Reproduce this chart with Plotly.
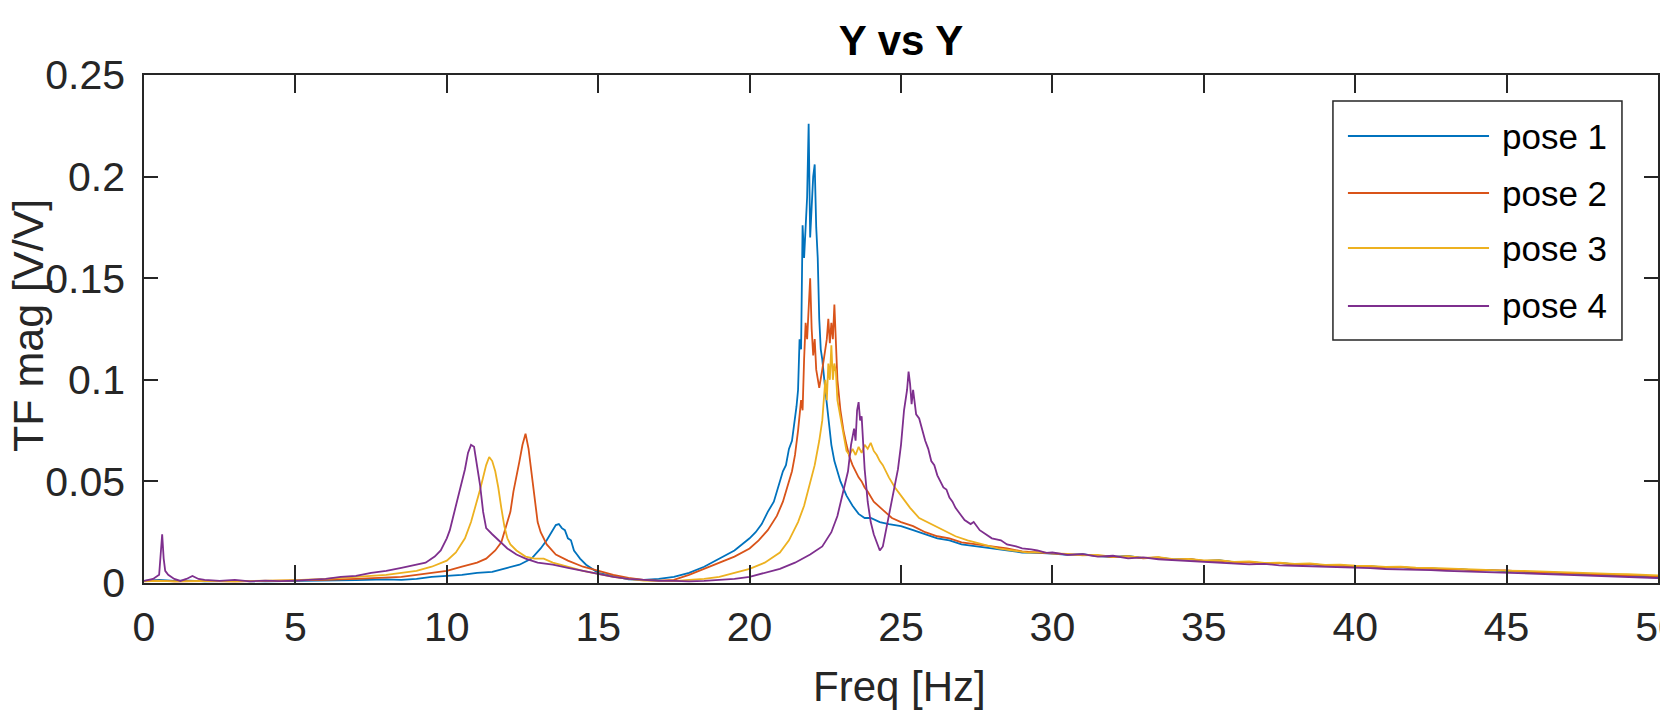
import plotly.graph_objects as go

# (freq [Hz], TF magnitude [V/V]) pairs
pose1 = [
    (0, 0.001), (0.5, 0.0015), (1, 0.001), (1.5, 0.0012), (2, 0.0008), (3, 0.001), (4, 0.0008),
    (5, 0.0009), (6, 0.0012), (7, 0.0014), (8, 0.0018), (8.5, 0.0015), (9, 0.002), (9.5, 0.003),
    (10, 0.0035), (10.5, 0.004), (11, 0.005), (11.5, 0.0055), (12, 0.0075), (12.4, 0.009),
    (12.8, 0.012), (13.1, 0.017), (13.3, 0.021), (13.5, 0.026), (13.6, 0.0285), (13.7, 0.029),
    (13.8, 0.027), (13.9, 0.026), (14.0, 0.022), (14.1, 0.021), (14.2, 0.016), (14.3, 0.014),
    (14.4, 0.012), (14.6, 0.009), (14.8, 0.007), (15.0, 0.005), (15.3, 0.004), (15.6, 0.003),
    (16.0, 0.0018), (16.5, 0.0015), (17.0, 0.002), (17.5, 0.003), (18.0, 0.005), (18.5, 0.008),
    (19.0, 0.012), (19.5, 0.016), (20.0, 0.022), (20.2, 0.025), (20.4, 0.029), (20.6, 0.035),
    (20.8, 0.04), (20.9, 0.045), (21.0, 0.049), (21.1, 0.055), (21.2, 0.058), (21.3, 0.066),
    (21.4, 0.07), (21.5, 0.08), (21.55, 0.087), (21.6, 0.095), (21.65, 0.12), (21.7, 0.115),
    (21.75, 0.176), (21.8, 0.16), (21.85, 0.18), (21.9, 0.19), (21.95, 0.226), (22.0, 0.17),
    (22.05, 0.185), (22.1, 0.2), (22.15, 0.206), (22.2, 0.175), (22.25, 0.16), (22.3, 0.13),
    (22.35, 0.115), (22.4, 0.11), (22.5, 0.095), (22.6, 0.08), (22.7, 0.068), (22.8, 0.06),
    (23.0, 0.05), (23.2, 0.043), (23.4, 0.038), (23.6, 0.034), (23.8, 0.032), (24.0, 0.032),
    (24.3, 0.03), (24.6, 0.029), (25.0, 0.028), (25.4, 0.026), (25.8, 0.024), (26.2, 0.022),
    (26.6, 0.021), (27.0, 0.019), (27.5, 0.018), (28.0, 0.017), (28.5, 0.016), (29.0, 0.015),
    (29.5, 0.0148), (30.0, 0.0145), (30.5, 0.0138), (31.0, 0.0142), (31.5, 0.0132), (32.0, 0.0128),
    (32.5, 0.0133), (33.0, 0.0122), (33.5, 0.0125), (34.0, 0.0116), (34.5, 0.0119), (35.0, 0.0108),
    (35.5, 0.0112), (36.0, 0.0101), (36.5, 0.0104), (37.0, 0.0096), (37.5, 0.0099), (38.0, 0.0091),
    (38.5, 0.0093), (39.0, 0.0086), (39.5, 0.0088), (40.0, 0.008), (40.5, 0.0083), (41.0, 0.0076),
    (41.5, 0.0078), (42.0, 0.0071), (42.5, 0.0073), (43.0, 0.0066), (43.5, 0.0068), (44.0, 0.0061),
    (44.5, 0.0063), (45.0, 0.0057), (45.5, 0.0055), (46.0, 0.005), (46.5, 0.0052), (47.0, 0.0046),
    (47.5, 0.0044), (48.0, 0.004), (48.5, 0.0038), (49.0, 0.0033), (49.5, 0.0031), (50.0, 0.0027),
]

pose2 = [
    (0, 0.001), (0.5, 0.0012), (1, 0.0008), (1.5, 0.001), (2, 0.0009), (3, 0.0008), (4, 0.001),
    (5, 0.0012), (6, 0.0015), (7, 0.002), (8, 0.0028), (8.5, 0.003), (9, 0.004), (9.5, 0.005),
    (10, 0.006), (10.5, 0.008), (11, 0.01), (11.3, 0.012), (11.6, 0.016), (11.8, 0.02),
    (12.0, 0.03), (12.1, 0.035), (12.2, 0.045), (12.3, 0.052), (12.4, 0.06), (12.5, 0.068),
    (12.6, 0.0735), (12.7, 0.066), (12.8, 0.054), (12.9, 0.04), (13.0, 0.03), (13.1, 0.025),
    (13.3, 0.019), (13.6, 0.014), (14.0, 0.011), (14.5, 0.008), (15.0, 0.006), (15.5, 0.004),
    (16.0, 0.0025), (16.5, 0.0015), (17.0, 0.0012), (17.5, 0.0015), (18.0, 0.004), (18.5, 0.007),
    (19.0, 0.01), (19.5, 0.013), (20.0, 0.017), (20.3, 0.021), (20.6, 0.026), (20.9, 0.033),
    (21.1, 0.04), (21.3, 0.05), (21.4, 0.055), (21.5, 0.063), (21.6, 0.075), (21.7, 0.09),
    (21.75, 0.085), (21.8, 0.11), (21.85, 0.128), (21.9, 0.12), (21.95, 0.14), (22.0, 0.15),
    (22.05, 0.125), (22.1, 0.112), (22.15, 0.12), (22.2, 0.105), (22.3, 0.096), (22.35, 0.1),
    (22.4, 0.105), (22.5, 0.115), (22.55, 0.12), (22.6, 0.13), (22.65, 0.118), (22.7, 0.128),
    (22.75, 0.12), (22.8, 0.137), (22.85, 0.12), (22.9, 0.1), (23.0, 0.085), (23.1, 0.075),
    (23.2, 0.068), (23.3, 0.062), (23.4, 0.058), (23.5, 0.055), (23.6, 0.052), (23.7, 0.05),
    (23.8, 0.047), (23.9, 0.045), (24.1, 0.04), (24.4, 0.036), (24.7, 0.032), (25.0, 0.03),
    (25.4, 0.028), (25.8, 0.025), (26.2, 0.023), (26.6, 0.022), (27.0, 0.02), (27.5, 0.019),
    (28.0, 0.018), (28.5, 0.017), (29.0, 0.0155), (29.5, 0.015), (30.0, 0.0148),
    (30.5, 0.0141), (31.0, 0.0139), (31.5, 0.0135), (32.0, 0.0127), (32.5, 0.0131), (33.0, 0.0121),
    (33.5, 0.0126), (34.0, 0.0114), (34.5, 0.0118), (35.0, 0.0109), (35.5, 0.011), (36.0, 0.0103),
    (36.5, 0.0102), (37.0, 0.0097), (37.5, 0.0098), (38.0, 0.0092), (38.5, 0.0094), (39.0, 0.0087),
    (39.5, 0.0086), (40.0, 0.0082), (40.5, 0.0081), (41.0, 0.0077), (41.5, 0.0079), (42.0, 0.0072),
    (42.5, 0.0071), (43.0, 0.0068), (43.5, 0.0066), (44.0, 0.0063), (44.5, 0.0061), (45.0, 0.0062),
    (45.5, 0.0056), (46.0, 0.0053), (46.5, 0.005), (47.0, 0.0049), (47.5, 0.0046), (48.0, 0.0044),
    (48.5, 0.0041), (49.0, 0.0038), (49.5, 0.0036), (50.0, 0.0033),
]

pose3 = [
    (0, 0.0008), (0.5, 0.001), (1, 0.0008), (1.5, 0.0009), (2, 0.001), (3, 0.0008), (4, 0.001),
    (5, 0.0014), (6, 0.002), (7, 0.003), (8, 0.004), (8.5, 0.005), (9, 0.006), (9.5, 0.008),
    (10.0, 0.011), (10.3, 0.015), (10.6, 0.022), (10.8, 0.03), (11.0, 0.04), (11.1, 0.046),
    (11.2, 0.052), (11.3, 0.058), (11.4, 0.062), (11.5, 0.06), (11.6, 0.055), (11.7, 0.047),
    (11.8, 0.037), (11.9, 0.028), (12.0, 0.022), (12.1, 0.019), (12.3, 0.016), (12.6, 0.013),
    (12.9, 0.012), (13.2, 0.012), (13.5, 0.01), (14.0, 0.008), (14.5, 0.006), (15.0, 0.0045),
    (15.5, 0.003), (16.0, 0.002), (16.5, 0.0012), (17.0, 0.001), (17.5, 0.0009), (18.0, 0.0015),
    (18.5, 0.002), (19.0, 0.003), (19.5, 0.005), (20.0, 0.007), (20.5, 0.01), (21.0, 0.015),
    (21.3, 0.021), (21.6, 0.03), (21.8, 0.038), (22.0, 0.05), (22.15, 0.058), (22.3, 0.07),
    (22.4, 0.08), (22.5, 0.1), (22.55, 0.09), (22.6, 0.108), (22.65, 0.1), (22.7, 0.117),
    (22.75, 0.1), (22.8, 0.108), (22.85, 0.104), (22.9, 0.09), (23.0, 0.081), (23.1, 0.072),
    (23.2, 0.065), (23.3, 0.063), (23.4, 0.066), (23.5, 0.063), (23.6, 0.067), (23.7, 0.064),
    (23.8, 0.068), (23.9, 0.066), (24.0, 0.069), (24.1, 0.065), (24.2, 0.063), (24.3, 0.06),
    (24.4, 0.058), (24.6, 0.052), (24.8, 0.047), (25.0, 0.043), (25.3, 0.037), (25.6, 0.032),
    (26.0, 0.029), (26.4, 0.026), (26.8, 0.023), (27.2, 0.021), (27.7, 0.019), (28.2, 0.017),
    (28.7, 0.016), (29.2, 0.015), (29.6, 0.0152), (30.0, 0.0146), (30.5, 0.0143), (31.0, 0.0136),
    (31.5, 0.0138), (32.0, 0.0129), (32.5, 0.0132), (33.0, 0.0124), (33.5, 0.0127), (34.0, 0.0117),
    (34.5, 0.0119), (35.0, 0.0111), (35.5, 0.0113), (36.0, 0.0104), (36.5, 0.0106), (37.0, 0.0099),
    (37.5, 0.01), (38.0, 0.0094), (38.5, 0.0097), (39.0, 0.0089), (39.5, 0.009), (40.0, 0.0085),
    (40.5, 0.0084), (41.0, 0.0079), (41.5, 0.0081), (42.0, 0.0075), (42.5, 0.0074), (43.0, 0.0071),
    (43.5, 0.0069), (44.0, 0.0066), (44.5, 0.0064), (45.0, 0.0061), (45.5, 0.006), (46.0, 0.0057),
    (46.5, 0.0055), (47.0, 0.0052), (47.5, 0.0051), (48.0, 0.0048), (48.5, 0.0045), (49.0, 0.0043),
    (49.5, 0.004), (50.0, 0.0038),
]

pose4 = [
    (0, 0.001), (0.3, 0.002), (0.5, 0.004), (0.55, 0.012), (0.6, 0.024), (0.65, 0.012),
    (0.7, 0.006), (0.8, 0.004), (1.0, 0.002), (1.2, 0.001), (1.4, 0.002), (1.6, 0.0035),
    (1.8, 0.002), (2.0, 0.0015), (2.5, 0.001), (3.0, 0.0015), (3.5, 0.0008), (4.0, 0.0012),
    (4.5, 0.0009), (5.0, 0.0012), (5.5, 0.0015), (6.0, 0.002), (6.5, 0.003), (7.0, 0.0035),
    (7.5, 0.005), (8.0, 0.006), (8.5, 0.0075), (9.0, 0.009), (9.3, 0.01), (9.6, 0.013),
    (9.8, 0.016), (10.0, 0.022), (10.1, 0.026), (10.2, 0.032), (10.3, 0.038), (10.4, 0.043),
    (10.5, 0.05), (10.6, 0.056), (10.7, 0.064), (10.8, 0.068), (10.9, 0.067), (11.0, 0.058),
    (11.1, 0.048), (11.2, 0.035), (11.3, 0.027), (11.5, 0.024), (11.7, 0.021), (12.0, 0.017),
    (12.3, 0.014), (12.6, 0.012), (13.0, 0.01), (13.5, 0.009), (14.0, 0.0075), (14.5, 0.006),
    (15.0, 0.0045), (15.5, 0.003), (16.0, 0.002), (16.5, 0.0015), (17.0, 0.001), (17.5, 0.001),
    (18.0, 0.0008), (18.5, 0.001), (19.0, 0.0015), (19.5, 0.002), (20.0, 0.003), (20.5, 0.005),
    (21.0, 0.007), (21.5, 0.01), (22.0, 0.014), (22.4, 0.018), (22.7, 0.025), (22.9, 0.033),
    (23.1, 0.045), (23.25, 0.055), (23.35, 0.068), (23.45, 0.076), (23.5, 0.07), (23.55, 0.085),
    (23.6, 0.089), (23.65, 0.08), (23.7, 0.082), (23.75, 0.065), (23.8, 0.056), (23.9, 0.04),
    (24.0, 0.03), (24.1, 0.024), (24.2, 0.02), (24.3, 0.016), (24.4, 0.018), (24.5, 0.026),
    (24.6, 0.033), (24.7, 0.04), (24.8, 0.048), (24.9, 0.056), (25.0, 0.068), (25.1, 0.085),
    (25.2, 0.095), (25.25, 0.104), (25.3, 0.098), (25.35, 0.088), (25.4, 0.095), (25.5, 0.083),
    (25.6, 0.081), (25.7, 0.075), (25.8, 0.07), (25.9, 0.066), (26.0, 0.06), (26.1, 0.058),
    (26.2, 0.053), (26.3, 0.05), (26.4, 0.047), (26.5, 0.046), (26.6, 0.042), (26.7, 0.04),
    (26.8, 0.037), (27.0, 0.033), (27.1, 0.031), (27.3, 0.029), (27.4, 0.03), (27.6, 0.026),
    (27.8, 0.024), (28.0, 0.022), (28.3, 0.021), (28.5, 0.019), (28.8, 0.018), (29.0, 0.017),
    (29.3, 0.0165), (29.5, 0.016), (29.8, 0.0148), (30.0, 0.015), (30.5, 0.0138), (31.0, 0.0142),
    (31.5, 0.013), (32.0, 0.0134), (32.5, 0.0121), (33.0, 0.0126), (33.5, 0.0117), (34.0, 0.0113),
    (34.5, 0.0108), (35.0, 0.0104), (35.5, 0.0099), (36.0, 0.0098), (36.5, 0.0092), (37.0, 0.0094),
    (37.5, 0.0087), (38.0, 0.0085), (38.5, 0.0083), (39.0, 0.0079), (39.5, 0.0078), (40.0, 0.0074),
    (40.5, 0.0073), (41.0, 0.0069), (41.5, 0.0068), (42.0, 0.0064), (42.5, 0.0063), (43.0, 0.006),
    (43.5, 0.0058), (44.0, 0.0055), (44.5, 0.0053), (45.0, 0.005), (45.5, 0.0049), (46.0, 0.0045),
    (46.5, 0.0043), (47.0, 0.004), (47.5, 0.0038), (48.0, 0.0035), (48.5, 0.0032), (49.0, 0.003),
    (49.5, 0.0027), (50.0, 0.0024),
]

names = ["pose 1", "pose 2", "pose 3", "pose 4"]
colors = ["#0072BD", "#D95319", "#EDB120", "#7E2F8E"]
xticks = [0, 5, 10, 15, 20, 25, 30, 35, 40, 45, 50]
yticks = [0, 0.05, 0.1, 0.15, 0.2, 0.25]
ytick_text = ["0", "0.05", "0.1", "0.15", "0.2", "0.25"]

axis_color = "#262626"
font = "Liberation Sans, Arial, Helvetica, sans-serif"

fig = go.Figure()
for name, color, data in zip(names, colors, [pose1, pose2, pose3, pose4]):
    fig.add_trace(go.Scatter(
        x=[p[0] for p in data],
        y=[p[1] for p in data],
        mode="lines",
        name=name,
        line=dict(color=color, width=1.8),
        showlegend=False,
    ))

# MATLAB-style legend box, drawn by hand so the sample lines are long
leg_x0, leg_x1 = 0.7853, 0.9762
leg_y0, leg_y1 = 0.4783, 0.9488
row_y = [0.8799, 0.7677, 0.6594, 0.5453]
shapes = [dict(type="rect", xref="paper", yref="paper", x0=leg_x0, x1=leg_x1,
               y0=leg_y0, y1=leg_y1, line=dict(color=axis_color, width=1.5),
               fillcolor="white", layer="above")]
annotations = []
for name, color, ry in zip(names, colors, row_y):
    shapes.append(dict(type="line", xref="paper", yref="paper", x0=0.7952, x1=0.8884,
                       y0=ry, y1=ry, line=dict(color=color, width=2), layer="above"))
    annotations.append(dict(text=name, xref="paper", yref="paper", x=0.8956, y=ry,
                            xanchor="left", yanchor="middle", showarrow=False,
                            font=dict(family=font, size=35, color="#000000")))

# axis titles
annotations.append(dict(text="Freq [Hz]", xref="paper", yref="paper", x=0.4987, y=-0.2028,
                        xanchor="center", yanchor="middle", showarrow=False,
                        font=dict(family=font, size=42, color=axis_color)))
annotations.append(dict(text="TF mag [V/V]", xref="paper", yref="paper", x=-0.0766, y=0.506,
                        xanchor="center", yanchor="middle", showarrow=False, textangle=-90,
                        font=dict(family=font, size=43, color=axis_color)))

fig.update_layout(
    width=1660,
    height=710,
    margin=dict(l=144, r=2, t=75, b=127),
    paper_bgcolor="white",
    plot_bgcolor="white",
    title=dict(text="<b>Y vs Y</b>", x=0.5, xref="paper", y=1 - 40 / 710, yref="container",
               xanchor="center", yanchor="middle",
               font=dict(family=font, size=42, color="#000000")),
    shapes=shapes,
    annotations=annotations,
    xaxis=dict(
        range=[0, 50], tickvals=xticks, ticks="inside", ticklen=18, tickwidth=1.5,
        tickcolor=axis_color, showline=True, linecolor=axis_color, linewidth=1.5,
        mirror="ticks", showgrid=False, zeroline=False, ticklabelstandoff=7,
        ticklabeloverflow="allow", automargin=False,
        tickfont=dict(family=font, size=41, color=axis_color),
    ),
    yaxis=dict(
        range=[0, 0.25], tickvals=yticks, ticktext=ytick_text, ticks="inside", ticklen=14,
        tickwidth=1.5, tickcolor=axis_color, showline=True, linecolor=axis_color,
        linewidth=1.5, mirror="ticks", showgrid=False, zeroline=False, ticklabelstandoff=9,
        automargin=False,
        tickfont=dict(family=font, size=41, color=axis_color),
    ),
)

# drop the page's default body margin so the figure sits at the window origin
fig.write_html("out.html", config={"displayModeBar": False},
               post_script="document.body.style.margin='0';"
                           "document.body.style.overflow='hidden';")
